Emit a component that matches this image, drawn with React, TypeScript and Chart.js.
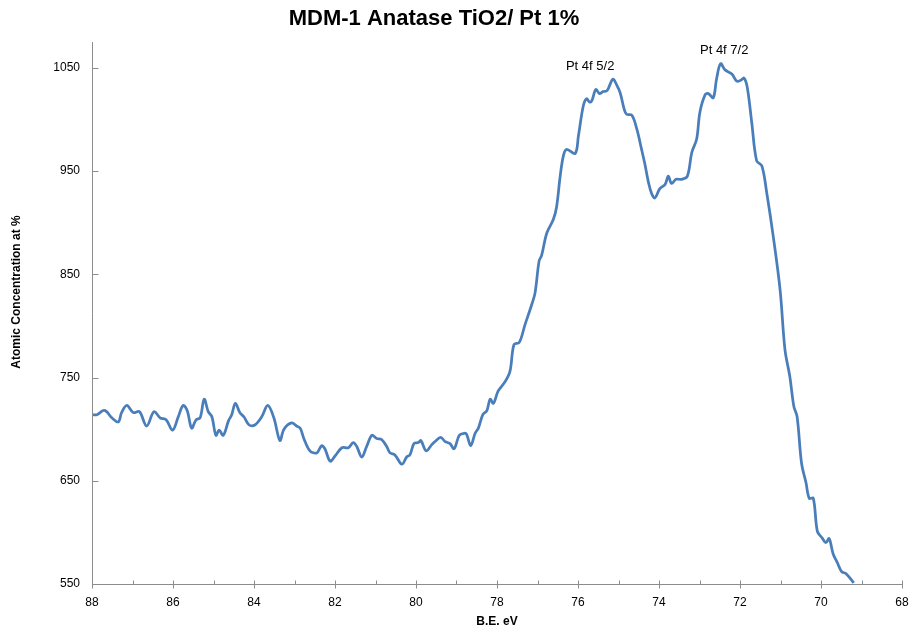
import React, { useEffect, useRef } from "react";
import { Chart, registerables } from "chart.js";

Chart.register(...registerables);

// ---- data ----
const chartTitle = "MDM-1 Anatase TiO2/ Pt 1%";
const xAxisTitle = "B.E. eV";
const yAxisTitle = "Atomic Concentration at %";

const bindingEnergy = [
  88.0, 87.88, 87.72, 87.64, 87.51, 87.35, 87.27, 87.14, 86.98, 86.83, 86.65, 86.47, 86.32, 86.17, 86.01,
  85.87, 85.75, 85.65, 85.54, 85.43, 85.33, 85.23, 85.13, 85.04, 84.94, 84.86, 84.76, 84.63, 84.55, 84.46,
  84.35, 84.25, 84.12, 83.98, 83.81, 83.66, 83.51, 83.36, 83.26, 83.07, 82.95, 82.86, 82.77, 82.62, 82.45,
  82.33, 82.25, 82.12, 82.0, 81.83, 81.67, 81.55, 81.46, 81.34, 81.22, 81.09, 80.97, 80.85, 80.72, 80.64,
  80.52, 80.35, 80.23, 80.15, 80.05, 79.94, 79.88, 79.75, 79.61, 79.53, 79.39, 79.28, 79.16, 79.06, 78.93,
  78.81, 78.75, 78.65, 78.54, 78.46, 78.35, 78.25, 78.17, 78.09, 77.97, 77.8, 77.68, 77.58, 77.45, 77.31,
  77.14, 77.06, 76.96, 76.9, 76.77, 76.61, 76.53, 76.44, 76.36, 76.28, 76.07, 75.99, 75.87, 75.79, 75.72,
  75.66, 75.56, 75.47, 75.38, 75.28, 75.14, 75.04, 74.96, 74.86, 74.8, 74.67, 74.55, 74.43, 74.35, 74.26,
  74.18, 74.1, 73.98, 73.85, 73.77, 73.69, 73.58, 73.44, 73.3, 73.19, 73.07, 72.99, 72.86, 72.78, 72.66,
  72.58, 72.48, 72.37, 72.2, 72.08, 71.98, 71.9, 71.82, 71.71, 71.59, 71.46, 71.34, 71.18, 71.01, 70.89,
  70.77, 70.67, 70.59, 70.48, 70.37, 70.29, 70.19, 70.09, 69.98, 69.88, 69.8, 69.7, 69.6, 69.49, 69.38,
  69.19,
];

const concentration = [
  714, 714, 718, 717, 711, 707, 716, 723, 716, 717, 703, 717, 711, 709, 699,
  712, 723, 718, 701, 709, 711, 729, 717, 712, 694, 699, 694, 708, 714, 725,
  716, 712, 704, 704, 712, 723, 711, 689, 700, 706, 703, 701, 691, 679, 677,
  684, 681, 669, 674, 682, 682, 687, 683, 673, 683, 694, 691, 690, 683, 677,
  675, 666, 673, 675, 686, 687, 689, 679, 685, 688, 692, 688, 686, 681, 694,
  696, 695, 684, 696, 701, 714, 718, 729, 725, 737, 746, 756, 782, 784, 801,
  821, 832, 863, 868, 890, 903, 915, 945, 965, 971, 967, 984, 1013, 1020, 1017,
  1018, 1029, 1025, 1027, 1028, 1039, 1033, 1026, 1010, 1005, 1004, 991, 971, 957, 939,
  928, 924, 933, 937, 945, 938, 942, 942, 945, 968, 981, 1007, 1024, 1025, 1021,
  1039, 1054, 1048, 1044, 1037, 1038, 1040, 1031, 997, 960, 955, 929, 887, 835, 777,
  751, 722, 712, 667, 648, 633, 633, 601, 595, 590, 594, 579, 571, 562, 560,
  551,
];

const xMajorTicks = [88, 86, 84, 82, 80, 78, 76, 74, 72, 70, 68];
const xMinorTicks = [87, 85, 83, 81, 79, 77, 75, 73, 71, 69];
const yTicks = [550, 650, 750, 850, 950, 1050];

const peakLabels = ["Pt 4f 5/2", "Pt 4f 7/2"];
const peakLabelX = [75.7, 72.39];
const peakLabelY = [1051, 1067];

// ---- styles ----
const FONT = "'Liberation Sans', Arial, sans-serif";
const AXIS_COLOR = "#8c8c8c";
const LINE_COLOR = "#4a7ebb";
const TEXT_COLOR = "#000000";

const overlayPlugin = {
  id: "overlay",
  afterDraw(chart: any) {
    const { ctx, chartArea } = chart;
    const xs = chart.scales.x;
    const ys = chart.scales.y;
    ctx.save();
    ctx.strokeStyle = AXIS_COLOR;
    ctx.lineWidth = 1;
    const left = Math.round(chartArea.left) + 0.5;
    const bottom = Math.round(chartArea.bottom) + 0.5;
    ctx.beginPath();
    ctx.moveTo(left, chartArea.top);
    ctx.lineTo(left, bottom);
    ctx.lineTo(chartArea.right, bottom);
    ctx.stroke();
    for (const v of xMajorTicks) {
      const px = Math.round(xs.getPixelForValue(v)) + 0.5;
      ctx.beginPath();
      ctx.moveTo(px, bottom - 4);
      ctx.lineTo(px, bottom + 4);
      ctx.stroke();
    }
    for (const v of xMinorTicks) {
      const px = Math.round(xs.getPixelForValue(v)) + 0.5;
      ctx.beginPath();
      ctx.moveTo(px, bottom - 4);
      ctx.lineTo(px, bottom);
      ctx.stroke();
    }
    for (const v of yTicks) {
      const py = Math.round(ys.getPixelForValue(v)) + 0.5;
      ctx.beginPath();
      ctx.moveTo(left, py);
      ctx.lineTo(left + 6, py);
      ctx.stroke();
    }

    ctx.fillStyle = TEXT_COLOR;
    ctx.textAlign = "center";
    ctx.textBaseline = "middle";
    ctx.font = `bold 22px ${FONT}`;
    ctx.fillText(chartTitle, 434, 19);
    ctx.font = `bold 12px ${FONT}`;
    ctx.fillText(xAxisTitle, (chartArea.left + chartArea.right) / 2, 622);
    ctx.save();
    ctx.translate(17, 292);
    ctx.rotate(-Math.PI / 2);
    ctx.font = `bold 12px ${FONT}`;
    ctx.fillText(yAxisTitle, 0, 0);
    ctx.restore();
    ctx.font = `13px ${FONT}`;
    for (let i = 0; i < peakLabels.length; i++) {
      ctx.fillText(peakLabels[i], xs.getPixelForValue(peakLabelX[i]), ys.getPixelForValue(peakLabelY[i]));
    }
    ctx.restore();
  },
};

export default function App() {
  const canvasRef = useRef<HTMLCanvasElement | null>(null);

  useEffect(() => {
    const canvas = canvasRef.current;
    if (!canvas) return;
    const points = bindingEnergy.map((x, i) => ({ x, y: concentration[i] }));
    const chart = new Chart(canvas, {
      type: "line",
      data: {
        datasets: [
          {
            data: points,
            borderColor: LINE_COLOR,
            borderWidth: 2.75,
            pointRadius: 0,
            tension: 0.35,
            fill: false,
          },
        ],
      },
      options: {
        animation: false,
        responsive: false,
        maintainAspectRatio: false,
        layout: { padding: { top: 42, right: 7, bottom: 0, left: 0 }, autoPadding: false },
        plugins: {
          legend: { display: false },
          title: { display: false },
          tooltip: { enabled: false },
        },
        scales: {
          x: {
            type: "linear",
            reverse: true,
            min: 68,
            max: 88,
            afterBuildTicks: (scale: any) => {
              scale.ticks = xMajorTicks.map((v) => ({ value: v }));
            },
            afterFit: (scale: any) => {
              scale.height = 50;
              scale.paddingLeft = 0;
              scale.paddingRight = 0;
            },
            grid: { display: false, drawTicks: false },
            border: { display: false },
            ticks: {
              font: { family: FONT, size: 12 },
              color: TEXT_COLOR,
              padding: 11,
              maxRotation: 0,
              autoSkip: false,
              callback: (v: any) => String(v),
            },
          },
          y: {
            type: "linear",
            min: 550,
            max: 1075,
            afterBuildTicks: (scale: any) => {
              scale.ticks = yTicks.map((v) => ({ value: v }));
            },
            afterFit: (scale: any) => {
              scale.width = 92;
              scale.paddingTop = 0;
              scale.paddingBottom = 0;
            },
            grid: { display: false, drawTicks: false },
            border: { display: false },
            ticks: {
              font: { family: FONT, size: 12 },
              color: TEXT_COLOR,
              padding: 12,
              autoSkip: false,
              callback: (v: any) => String(v),
            },
          },
        },
      },
      plugins: [overlayPlugin],
    });
    return () => chart.destroy();
  }, []);

  return (
    <div style={{ position: "absolute", left: 0, top: 0, width: 909, height: 634, background: "#fff" }}>
      <canvas ref={canvasRef} width={909} height={634} />
    </div>
  );
}
